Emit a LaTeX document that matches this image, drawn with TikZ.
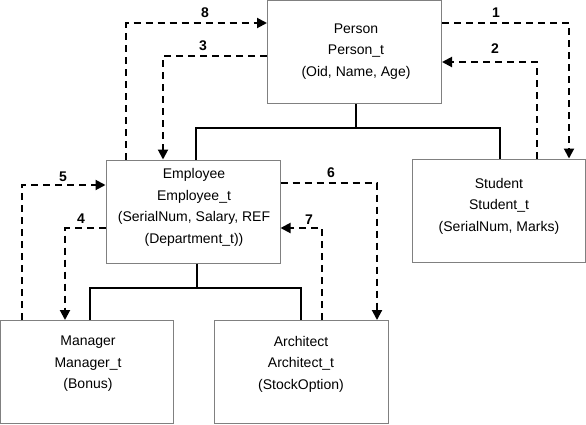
\documentclass[tikz,border=0pt]{standalone}
\usepackage{fontspec}
\setmainfont{Liberation Sans}
\usetikzlibrary{arrows.meta}
\definecolor{boxgray}{HTML}{808080}
\tikzset{
  box/.style={draw=boxgray, line width=1pt, minimum width=174pt, minimum height=103pt, inner sep=0pt},
  txt/.style={align=center, inner sep=0pt, font=\fontsize{14}{21.5}\selectfont},
  lbl/.style={inner sep=0pt, font=\fontsize{14}{16}\selectfont\bfseries},
  tree/.style={line width=2pt},
  dep/.style={line width=2pt, dash pattern=on 7pt off 5pt, -{Triangle[length=10pt,width=10pt]}}
}
\begin{document}
\begin{tikzpicture}[x=1pt,y=-1pt]
\useasboundingbox (0,0) rectangle (586,424);
% boxes
\node[box] (person) at (354.5,52) {};
\node[box] (employee) at (193,211.5) {};
\node[box, minimum width=173.5pt] (student) at (498.75,210.5) {};
\node[box, minimum width=173pt] (manager) at (87,372) {};
\node[box] (architect) at (301,372) {};
% texts
\node[txt] (ptxt) at (356,51.5) {Person\\Person\_t\\(Oid, Name, Age)};
\node[txt] (etxt) at (194,207.5) {Employee\\Employee\_t\\(SerialNum, Salary, REF\\(Department\_t))};
\node[txt] (stxt) at (499,206) {Student\\Student\_t\\(SerialNum, Marks)};
\node[txt] (mtxt) at (88,364) {Manager\\Manager\_t\\(Bonus)};
\node[txt] (atxt) at (301,364) {Architect\\Architect\_t\\(StockOption)};
% tree
\coordinate (pj) at (356,128);
\coordinate (ej) at (197,288);
\draw[tree] (person.south -| pj) -- (pj);
\draw[tree] ([xshift=3pt]employee.north) |- (pj) -| ([xshift=1.25pt]student.north);
\draw[tree] (employee.south -| ej) -- (ej);
\draw[tree] ([xshift=3pt]manager.north) |- (ej) -| (architect.north);
% dependency arrows
\coordinate (c8) at (126,23);
\coordinate (c3) at (163,56);
\coordinate (c1) at (569,23);
\coordinate (c2) at (537,62);
\coordinate (c5) at (22,185);
\coordinate (c4) at (65,228);
\coordinate (c6) at (377,183);
\coordinate (c7) at (322,228);
\draw[dep] (employee.north -| c8) |- (person.west |- c8);
\draw[dep] (person.west |- c3) -| (employee.north -| c3);
\draw[dep] (person.east |- c1) -| (student.north -| c1);
\draw[dep] (student.north -| c2) |- (person.east |- c2);
\draw[dep] (manager.north -| c5) |- (employee.west |- c5);
\draw[dep] (employee.west |- c4) -| (manager.north -| c4);
\draw[dep] (employee.east |- c6) -| (architect.north -| c6);
\draw[dep] (architect.north -| c7) |- (employee.east |- c7);
% labels
\node[lbl] (l8) at (205,13) {8};
\node[lbl] (l3) at (203,46) {3};
\node[lbl] (l1) at (496,13) {1};
\node[lbl] (l2) at (495,49) {2};
\node[lbl] (l5) at (63,177) {5};
\node[lbl] (l4) at (81,219) {4};
\node[lbl] (l6) at (331,173) {6};
\node[lbl] (l7) at (309,220) {7};
\end{tikzpicture}
\end{document}
